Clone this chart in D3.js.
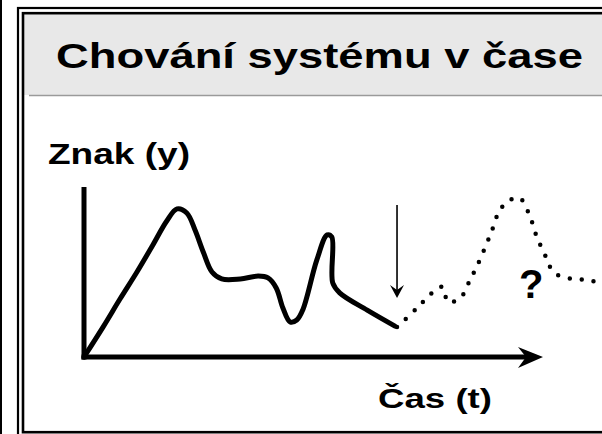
<!DOCTYPE html>
<html>
<head>
<meta charset="utf-8">
<script src="https://cdn.jsdelivr.net/npm/d3@7"></script>
<style>
  body { margin: 0; background: #fff; }
  text { font-family: "Liberation Sans", Arial, sans-serif; font-weight: bold; fill: #000; }
</style>
</head>
<body>
<script>
// observed behaviour of the system (solid) and the unknown future (dotted)
const pastTime  = [0, 3.7, 7.0, 10.3, 13.4, 16.1, 18.1, 20.0, 21.6, 23.2, 24.9, 26.8, 30.4, 33.9, 35.8, 37.4, 38.7, 40.1, 41.4, 42.6, 45.3, 47.3, 48.2, 48.4, 49.8, 55.1, 60.5];
const pastValue = [0, 17.6, 34.1, 50, 65.9, 80, 87.1, 84.7, 74.7, 61.8, 50, 45.9, 45.9, 47.6, 46.5, 40.6, 28.8, 20.6, 21.8, 28, 57.1, 71.8, 70.6, 43.5, 37.6, 27.6, 18.2];

const futureTime  = [60.9, 64.8, 67.9, 69.8, 70.8, 73.2, 75.1, 77.0, 79.4, 80.9, 82.9, 84.8, 86.8, 88.1, 89.7, 90.7, 92.2, 95.1, 97.9, 100.4];
const futureValue = [17.6, 28.8, 38.2, 41.2, 32.4, 34.7, 45.3, 57.1, 74.7, 86.5, 92.4, 93.5, 82.4, 70.6, 60, 52.9, 48.2, 45.9, 45.3, 43.5];

const title = "Chování systému v čase";
const yLabel = "Znak (y)";
const xLabel = "Čas (t)";

// "now" marker and the question mark
const nowTime = 60.9, nowFrom = 89.4, nowTo = 34.7;
const questionTime = 87, questionValue = 35;

const width = 602, height = 434;

const svg = d3.select("body").append("svg")
    .attr("width", width)
    .attr("height", height);

// frame of the slide
svg.append("line").attr("x1", 1).attr("x2", 1).attr("y1", 0).attr("y2", height)
    .attr("stroke", "#000").attr("stroke-width", 2);
svg.append("rect").attr("x", 23.5).attr("y", 14.5).attr("width", 600).attr("height", 80.5)
    .attr("fill", "#e8e8e8");
svg.append("line").attr("x1", 29).attr("x2", width).attr("y1", 95.5).attr("y2", 95.5)
    .attr("stroke", "#9a9a9a").attr("stroke-width", 1.5);
svg.append("rect").attr("x", 18).attr("y", 8).attr("width", 620).attr("height", 440)
    .attr("fill", "none").attr("stroke", "#000").attr("stroke-width", 2.2);
svg.append("rect").attr("x", 23).attr("y", 13.2).attr("width", 620).attr("height", 419)
    .attr("fill", "none").attr("stroke", "#000").attr("stroke-width", 2.6);

svg.append("text").attr("x", 56).attr("y", 68)
    .attr("font-size", 35)
    .attr("textLength", 527).attr("lengthAdjust", "spacingAndGlyphs")
    .text(title);

const x = d3.scaleLinear().domain([0, 100]).range([84, 598]);
const y = d3.scaleLinear().domain([0, 100]).range([357, 187]);

const line = d3.line()
    .x(d => x(d[0]))
    .y(d => y(d[1]))
    .curve(d3.curveCatmullRom.alpha(0.5));

// axes
const xAxisEnd = 89.3;
svg.append("line")
    .attr("x1", x(0)).attr("x2", x(0))
    .attr("y1", y(100)).attr("y2", y(0) + 2.5)
    .attr("stroke", "#000").attr("stroke-width", 5);
svg.append("line")
    .attr("x1", x(0) - 2.5).attr("x2", x(xAxisEnd) - 12)
    .attr("y1", y(0)).attr("y2", y(0))
    .attr("stroke", "#000").attr("stroke-width", 5);
svg.append("path")
    .attr("d", `M${x(xAxisEnd)},${y(0)} L${x(xAxisEnd) - 25},${y(0) - 10} L${x(xAxisEnd) - 17},${y(0)} L${x(xAxisEnd) - 25},${y(0) + 11} Z`)
    .attr("fill", "#000");

// curves
const past = pastTime.map((t, i) => [t, pastValue[i]]);
const future = futureTime.map((t, i) => [t, futureValue[i]]);

svg.append("path")
    .attr("d", line(past))
    .attr("fill", "none").attr("stroke", "#000")
    .attr("stroke-width", 5).attr("stroke-linejoin", "round").attr("stroke-linecap", "round");

svg.append("path")
    .attr("d", line(future))
    .attr("fill", "none").attr("stroke", "#000")
    .attr("stroke-width", 4.5).attr("stroke-linecap", "round")
    .attr("stroke-dasharray", "0 12");

// the "now" arrow
svg.append("line")
    .attr("x1", x(nowTime)).attr("x2", x(nowTime))
    .attr("y1", y(nowFrom)).attr("y2", y(nowTo) - 4)
    .attr("stroke", "#000").attr("stroke-width", 1.6);
svg.append("path")
    .attr("d", `M${x(nowTime)},${y(nowTo)} L${x(nowTime) - 7},${y(nowTo) - 13} L${x(nowTime)},${y(nowTo) - 8} L${x(nowTime) + 7},${y(nowTo) - 13} Z`)
    .attr("fill", "#000");

svg.append("text")
    .attr("x", x(questionTime)).attr("y", y(questionValue))
    .attr("text-anchor", "middle")
    .attr("font-size", 40)
    .text("?");

// labels
svg.append("text").attr("x", 48).attr("y", 164)
    .attr("font-size", 29)
    .attr("textLength", 142).attr("lengthAdjust", "spacingAndGlyphs")
    .text(yLabel);
svg.append("text").attr("x", 378).attr("y", 408)
    .attr("font-size", 27)
    .attr("textLength", 114).attr("lengthAdjust", "spacingAndGlyphs")
    .text(xLabel);
</script>
</body>
</html>
